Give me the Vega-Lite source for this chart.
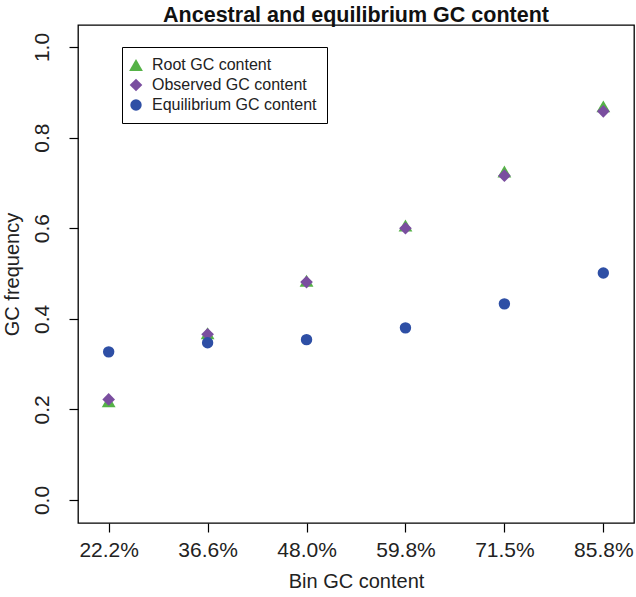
{
  "$schema": "https://vega.github.io/schema/vega-lite/v6.json",
  "width": 556,
  "height": 498,
  "autosize": {"type": "none"},
  "padding": {"left": 78, "top": 25, "right": 2, "bottom": 74},
  "background": "white",
  "title": {
    "text": "Ancestral and equilibrium GC content",
    "font": "Liberation Sans",
    "fontSize": 21.5,
    "fontWeight": "bold",
    "color": "#111111",
    "anchor": "middle",
    "offset": 3,
    "dy": 4
  },
  "data": {
    "values": [
      {"bin": "22.2%", "series": "Root GC content", "gc": 0.218},
      {"bin": "36.6%", "series": "Root GC content", "gc": 0.368},
      {"bin": "48.0%", "series": "Root GC content", "gc": 0.484},
      {"bin": "59.8%", "series": "Root GC content", "gc": 0.606},
      {"bin": "71.5%", "series": "Root GC content", "gc": 0.725},
      {"bin": "85.8%", "series": "Root GC content", "gc": 0.869},
      {"bin": "22.2%", "series": "Observed GC content", "gc": 0.222},
      {"bin": "36.6%", "series": "Observed GC content", "gc": 0.366},
      {"bin": "48.0%", "series": "Observed GC content", "gc": 0.481},
      {"bin": "59.8%", "series": "Observed GC content", "gc": 0.600},
      {"bin": "71.5%", "series": "Observed GC content", "gc": 0.716},
      {"bin": "85.8%", "series": "Observed GC content", "gc": 0.858},
      {"bin": "22.2%", "series": "Equilibrium GC content", "gc": 0.327},
      {"bin": "36.6%", "series": "Equilibrium GC content", "gc": 0.347},
      {"bin": "48.0%", "series": "Equilibrium GC content", "gc": 0.354},
      {"bin": "59.8%", "series": "Equilibrium GC content", "gc": 0.380},
      {"bin": "71.5%", "series": "Equilibrium GC content", "gc": 0.433},
      {"bin": "85.8%", "series": "Equilibrium GC content", "gc": 0.501}
    ]
  },
  "mark": {"type": "point", "filled": true, "opacity": 1, "strokeWidth": 0},
  "encoding": {
    "x": {
      "field": "bin",
      "type": "ordinal",
      "sort": ["22.2%", "36.6%", "48.0%", "59.8%", "71.5%", "85.8%"],
      "scale": {"type": "point", "padding": 0.31},
      "axis": {
        "title": "Bin GC content",
        "labelAngle": 0,
        "labelBaseline": "alphabetic",
        "labelPadding": 24,
        "labelFontSize": 21,
        "titleBaseline": "alphabetic",
        "titleY": 64
      }
    },
    "y": {
      "field": "gc",
      "type": "quantitative",
      "scale": {"domain": [-0.0508, 1.0486], "nice": false, "zero": false},
      "axis": {
        "title": "GC frequency",
        "values": [0, 0.2, 0.4, 0.6, 0.8, 1.0],
        "format": ".1f",
        "labelAngle": -90,
        "labelAlign": "center",
        "labelBaseline": "alphabetic",
        "labelPadding": 21,
        "labelFontSize": 21,
        "titleAngle": -90,
        "titleAlign": "center",
        "titleBaseline": "alphabetic",
        "titleX": -60,
        "titleY": 249
      }
    },
    "color": {
      "field": "series",
      "type": "nominal",
      "scale": {
        "domain": ["Root GC content", "Observed GC content", "Equilibrium GC content"],
        "range": ["#55b247", "#7a4e9f", "#2e4fa5"]
      },
      "legend": {"title": null}
    },
    "shape": {
      "field": "series",
      "type": "nominal",
      "scale": {
        "domain": ["Root GC content", "Observed GC content", "Equilibrium GC content"],
        "range": ["triangle-up", "diamond", "circle"]
      },
      "legend": {"title": null}
    },
    "size": {
      "field": "series",
      "type": "nominal",
      "scale": {
        "domain": ["Root GC content", "Observed GC content", "Equilibrium GC content"],
        "range": [190, 130, 121]
      },
      "legend": {"title": null}
    }
  },
  "config": {
    "view": {"stroke": "black", "strokeWidth": 1.3},
    "axis": {
      "domain": false,
      "grid": false,
      "ticks": true,
      "tickColor": "black",
      "tickSize": 9,
      "tickWidth": 1.2,
      "labelColor": "#222222",
      "labelFont": "Liberation Sans",
      "labelFontSize": 20,
      "titleColor": "#222222",
      "titleFont": "Liberation Sans",
      "titleFontSize": 20,
      "titleFontWeight": "normal",
      "labelOverlap": false,
      "labelFlush": false
    },
    "legend": {
      "orient": "none",
      "legendX": 44,
      "legendY": 22,
      "strokeColor": "black",
      "fillColor": "white",
      "padding": 10,
      "rowPadding": 4,
      "labelFont": "Liberation Sans",
      "labelFontSize": 16,
      "labelColor": "#222222",
      "labelOffset": 8,
      "labelLimit": 400,
      "symbolOffset": -4,
      "symbolStrokeWidth": 0,
      "symbolOpacity": 1
    }
  }
}
